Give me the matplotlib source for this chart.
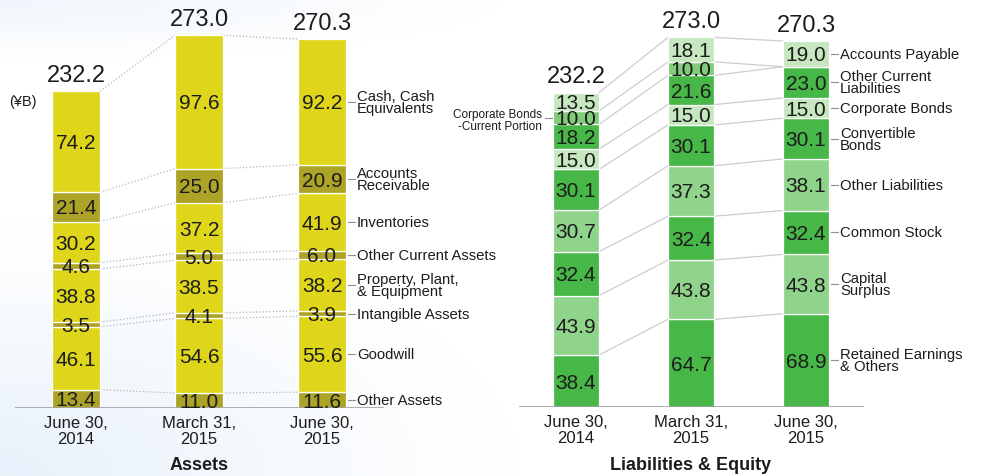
import matplotlib
matplotlib.use('Agg')
import matplotlib.pyplot as plt
import numpy as np
from matplotlib.transforms import offset_copy

plt.rcParams['font.family'] = ['Liberation Sans', 'DejaVu Sans']

# ---------------- data ----------------
dates = ['June 30,\n2014', 'March 31,\n2015', 'June 30,\n2015']

asset_items = ['Other Assets', 'Goodwill', 'Intangible Assets',
               'Property, Plant,\n& Equipment', 'Other Current Assets',
               'Inventories', 'Accounts\nReceivable', 'Cash, Cash\nEquivalents']
other_assets = [13.4, 11.0, 11.6]
goodwill = [46.1, 54.6, 55.6]
intangible = [3.5, 4.1, 3.9]
ppe = [38.8, 38.5, 38.2]
other_current_assets = [4.6, 5.0, 6.0]
inventories = [30.2, 37.2, 41.9]
receivable = [21.4, 25.0, 20.9]
cash = [74.2, 97.6, 92.2]
asset_totals = [232.2, 273.0, 270.3]

liab_items = ['Retained Earnings\n& Others', 'Capital\nSurplus', 'Common Stock',
              'Other Liabilities', 'Convertible\nBonds', 'Corporate Bonds',
              'Other Current\nLiabilities', 'Corporate Bonds\n-Current Portion',
              'Accounts Payable']
retained = [38.4, 64.7, 68.9]
capital_surplus = [43.9, 43.8, 43.8]
common_stock = [32.4, 32.4, 32.4]
other_liab = [30.7, 37.3, 38.1]
convertible = [30.1, 30.1, 30.1]
corp_bonds = [15.0, 15.0, 15.0]
other_current_liab = [18.2, 21.6, 23.0]
corp_bonds_current = [10.0, 10.0, 0.0]
payable = [13.5, 18.1, 19.0]
liab_totals = [232.2, 273.0, 270.3]

asset_series = [other_assets, goodwill, intangible, ppe, other_current_assets,
                inventories, receivable, cash]
liab_series = [retained, capital_surplus, common_stock, other_liab, convertible,
               corp_bonds, other_current_liab, corp_bonds_current, payable]

# ---------------- style ----------------
YEL = '#dfd61c'
OLV = '#aca327'
DG = '#47b847'
LG = '#90d48c'
VL = '#c6e7bf'
MG = '#80cc7b'
asset_colors = [OLV, YEL, OLV, YEL, OLV, YEL, OLV, YEL]
liab_colors = [DG, LG, DG, LG, DG, VL, DG, MG, VL]

W, H = 997, 476
fig = plt.figure(figsize=(W / 100, H / 100), dpi=100)

# subtle background
bg = fig.add_axes([0, 0, 1, 1], zorder=-5)
yy, xx = np.mgrid[0:H, 0:W]
d1 = np.sqrt((xx / 520.0) ** 2 + ((H - yy) / 260.0) ** 2)
d2 = np.sqrt((xx / 500.0) ** 2 + (yy / 60.0) ** 2)
a = np.clip(1 - d1, 0, 1) ** 1.2 * 0.55 + np.clip(1 - d2, 0, 1) * 0.35
a = np.clip(a, 0, 1)
base = np.array([1.0, 1.0, 1.0])
tint = np.array([0.83, 0.90, 0.97])
img = base[None, None, :] * (1 - a[..., None]) + tint[None, None, :] * a[..., None]
bg.imshow(img, aspect='auto', extent=[0, 1, 0, 1])
bg.axis('off')

TXT = '#1c1c1c'


def make_axes(left_px, right_px, base_px, scale):
    ylim_top = 295
    ax = fig.add_axes([left_px / W, (H - base_px) / H, (right_px - left_px) / W,
                       ylim_top * scale / H])
    ax.set_xlim(-0.5, 2.5)
    ax.set_ylim(0, ylim_top)
    ax.axis('off')
    ax.patch.set_alpha(0)
    return ax


def draw(ax, series, colors, totals, width, px_per_x, conn_style, conn_color,
         labels, title, title_x):
    n = len(series)
    x = np.arange(3)
    cum = np.zeros((n + 1, 3))
    for k, s in enumerate(series):
        cum[k + 1] = cum[k] + np.array(s)
    trv = offset_copy(ax.transData, fig=fig, x=0, y=-2, units='dots')
    for k, s in enumerate(series):
        ax.bar(x, s, width, bottom=cum[k], color=colors[k], edgecolor='white',
               linewidth=0.9, zorder=2)
        for i in range(3):
            if s[i] > 0:
                ax.text(i, cum[k][i] + s[i] / 2, f'{s[i]:.1f}', ha='center',
                        va='center', fontsize=15, color=TXT, zorder=4,
                        transform=trv)
    # connectors
    for k in range(1, n + 1):
        for i in range(2):
            ax.plot([i + width / 2, i + 1 - width / 2], [cum[k][i], cum[k][i + 1]],
                    linestyle=conn_style, color=conn_color, lw=0.9, zorder=1)
    # totals
    tr = offset_copy(ax.transData, fig=fig, x=0, y=9.5, units='dots')
    for i in range(3):
        ax.text(i, totals[i], f'{totals[i]:.1f}', transform=tr, ha='center',
                va='baseline', fontsize=17, color=TXT)
    # baseline
    ax.axhline(0, color='#a0a0a0', lw=1.2, zorder=3)
    # category labels
    trc = offset_copy(ax.transData, fig=fig, x=0, y=-8, units='dots')
    for i in range(3):
        ax.text(i, 0, dates[i], transform=trc, ha='center', va='top',
                fontsize=12, color=TXT, linespacing=1.1)
    ax.text(title_x, 0, title, transform=offset_copy(ax.transData, fig=fig, x=0,
            y=-58, units='dots'), ha='center', va='center', fontsize=13,
            fontweight='bold', color=TXT)
    # segment labels
    g0, g1, g2 = 1.5 / px_per_x, 8.5 / px_per_x, 11 / px_per_x
    trl = offset_copy(ax.transData, fig=fig, x=0, y=-1, units='dots')
    for k, s in enumerate(series):
        if s[2] > 0:
            yc = cum[k][2] + s[2] / 2
            x0 = 2 + width / 2
            ax.plot([x0 + g0, x0 + g1], [yc, yc], color='#909090', lw=0.8)
            ax.text(x0 + g2, yc, labels[k], ha='left', va='center', fontsize=10.7,
                    color=TXT, linespacing=0.82, transform=trl)
        else:
            yc = cum[k][0] + s[0] / 2
            x0 = 0 - width / 2
            ax.plot([x0 - g0, x0 - g1], [yc, yc], color='#909090', lw=0.8)
            ax.text(x0 - 11 / px_per_x, yc - 2.6, labels[k], ha='right', va='center',
                    fontsize=8.5, color=TXT, linespacing=0.95)


axL = make_axes(14.5, 383.5, 408, 1.365)
draw(axL, asset_series, asset_colors, asset_totals, 48 / 123, 123, ':', '#b5b5b5',
     asset_items, 'Assets', 1)
axL.text(-0.5, 232.2 - 8, '(¥B)', transform=offset_copy(axL.transData, fig=fig,
         x=-5, y=0, units='dots'), ha='left', va='center', fontsize=10.5, color=TXT)

axR = make_axes(518.5, 863.5, 407, 1.354)
draw(axR, liab_series, liab_colors, liab_totals, 46 / 115, 115, '-', '#cdcdcd',
     liab_items, 'Liabilities & Equity', 1)

fig.savefig('out.png', dpi=100)
